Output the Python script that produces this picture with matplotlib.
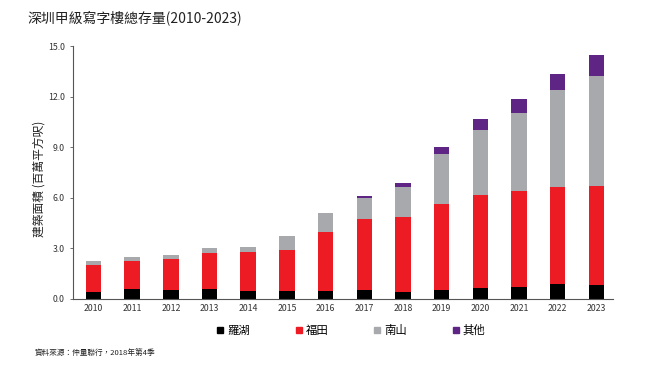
import matplotlib
matplotlib.use("Agg")
import matplotlib.pyplot as plt
from matplotlib.lines import Line2D
import numpy as np

plt.rcParams['font.family'] = ['Noto Sans CJK TC', 'DejaVu Sans']

years = ['2010', '2011', '2012', '2013', '2014', '2015', '2016',
         '2017', '2018', '2019', '2020', '2021', '2022', '2023']
luohu = [0.40, 0.56, 0.54, 0.56, 0.46, 0.44, 0.46, 0.50, 0.38, 0.54, 0.62, 0.70, 0.86, 0.83]
futian = [1.62, 1.68, 1.84, 2.16, 2.30, 2.44, 3.51, 4.23, 4.47, 5.06, 5.55, 5.67, 5.79, 5.86]
nanshan = [0.20, 0.22, 0.20, 0.30, 0.32, 0.85, 1.11, 1.22, 1.78, 2.97, 3.87, 4.68, 5.73, 6.52]
others = [0, 0, 0, 0, 0, 0, 0, 0.15, 0.24, 0.46, 0.64, 0.80, 0.98, 1.28]
series_names = ['羅湖', '福田', '南山', '其他']
colors = ['#000000', '#ED1C24', '#A7A9AC', '#5F2585']
yticks = [0.0, 3.0, 6.0, 9.0, 12.0, 15.0]

fig = plt.figure(figsize=(6.6, 3.8), dpi=100)
ax = fig.add_axes([73/660, 1 - 298.7/380, (613 - 73)/660, (298.7 - 46)/380])

x = np.arange(len(years))
bottom = np.zeros(len(years))
for vals, c, name in zip([luohu, futian, nanshan, others], colors, series_names):
    v = np.array(vals)
    ax.bar(x, v, width=0.4, bottom=bottom, color=c, label=name, linewidth=0)
    bottom += v

ax.set_xlim(-0.53, 13.43)
ax.set_ylim(0, 15)
ax.set_yticks(yticks)
ax.set_yticklabels([f'{t:.1f}' for t in yticks])
ax.set_xticks(x)
ax.set_xticklabels(years)
for s in ['top', 'right']:
    ax.spines[s].set_visible(False)
for s in ['left', 'bottom']:
    ax.spines[s].set_color('#555555')
    ax.spines[s].set_linewidth(0.8)
ax.tick_params(axis='y', length=2, width=0.6, colors='#555555', labelsize=6.3, labelcolor='#333333', pad=4)
ax.tick_params(axis='x', length=0, labelsize=6.3, labelcolor='#333333', pad=4)

fig.text(39/660, 1 - 179/380, '建築面積 (百萬平方呎)', rotation=90, ha='center', va='center',
         fontsize=8.5, color='#222222')

fig.text(27/660, 1 - 18/380, '深圳甲級寫字樓總存量(2010-2023)', ha='left', va='center',
         fontsize=10, color='#222222')

handles = [Line2D([0], [0], marker='s', linestyle='none', markersize=4,
                  markerfacecolor=c, markeredgecolor=c) for c in colors]
fig.legend(handles, series_names, loc='center', bbox_to_anchor=(351/660, 1 - 330/380),
           ncol=4, frameon=False, fontsize=8.2, handlelength=0.6, handletextpad=0.3,
           columnspacing=4.0)

fig.text(35/660, 1 - 354/380, '資料來源：仲量聯行，2018年第4季', ha='left', va='center',
         fontsize=5.5, color='#222222')

fig.savefig('out.png', dpi=100)
